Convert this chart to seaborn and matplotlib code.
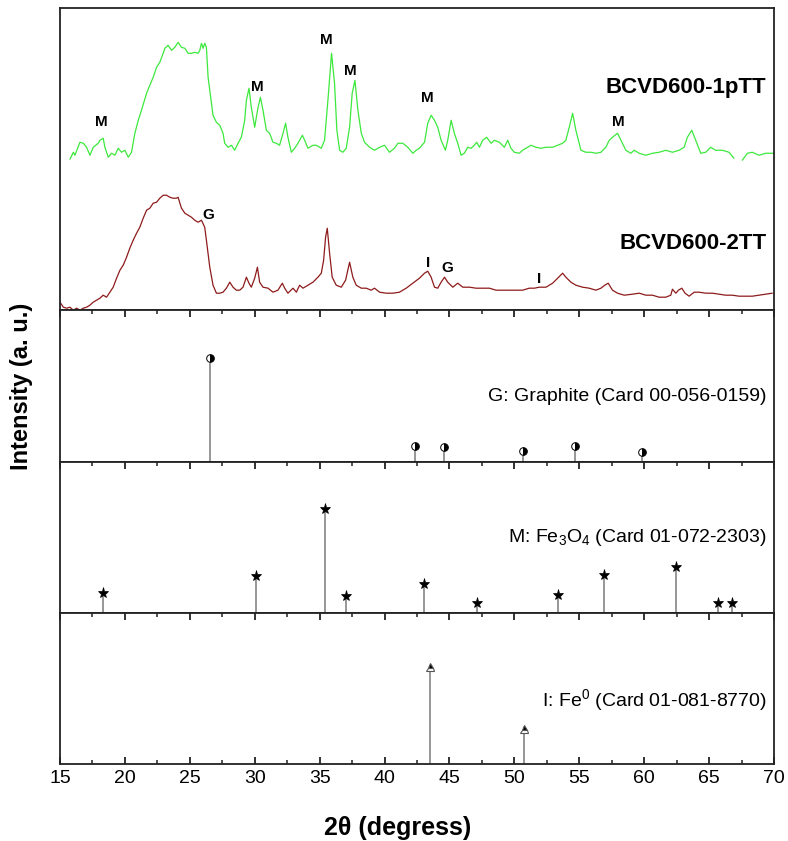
import numpy as np
import pandas as pd
import matplotlib
matplotlib.use("Agg")
import matplotlib.pyplot as plt
from matplotlib.ticker import MultipleLocator
import seaborn as sns

# ---- measured diffractograms (2theta in degrees, intensity in a.u.) ----
tt_1ptt = [15.77, 16.03, 16.15, 16.54, 16.80, 17.05, 17.31, 17.56, 17.95, 18.08, 18.33, 18.46,
           18.72, 18.97, 19.23, 19.49, 19.74, 20.00, 20.26, 20.51, 20.77, 21.03, 21.28, 21.67,
           21.92, 22.18, 22.44, 22.69, 22.95, 23.08, 23.33, 23.59, 23.85, 24.10, 24.36, 24.62,
           24.87, 25.13, 25.39, 25.64, 25.77, 25.90, 26.03, 26.15, 26.28, 26.41, 26.67, 26.79,
           27.05, 27.31, 27.56, 27.69, 27.95, 28.21, 28.46, 28.72, 28.97, 29.23, 29.36, 29.56,
           29.74, 30.00, 30.26, 30.44, 30.64, 30.90, 31.15, 31.41, 31.67, 31.92, 32.18, 32.38,
           32.56, 32.82, 33.08, 33.33, 33.67, 33.85, 34.10, 34.49, 34.74, 35.13, 35.38, 35.64,
           35.92, 36.15, 36.33, 36.54, 36.79, 37.05, 37.31, 37.51, 37.72, 37.95, 38.21, 38.46,
           38.85, 39.23, 39.62, 40.00, 40.38, 40.77, 41.03, 41.41, 41.79, 42.18, 42.44, 42.69,
           43.08, 43.33, 43.59, 43.85, 44.10, 44.36, 44.69, 44.87, 45.13, 45.38, 45.64, 45.90,
           46.15, 46.41, 46.67, 46.92, 47.10, 47.31, 47.56, 47.87, 48.21, 48.46, 48.85, 49.23,
           49.49, 49.74, 50.00, 50.38, 50.64, 51.03, 51.28, 51.67, 52.05, 52.44, 52.95, 53.33,
           53.72, 53.97, 54.23, 54.49, 54.74, 55.13, 55.51, 55.90, 56.28, 56.67, 57.05, 57.31,
           57.56, 57.95, 58.21, 58.59, 58.97, 59.23, 59.62, 60.13, 60.64, 61.15, 61.67, 62.18,
           62.69, 63.08, 63.33, 63.67, 63.97, 64.36, 64.74, 65.13, 65.51, 66.03, 66.54, 66.92,
           67.56, 67.95, 68.33, 68.85, 69.36, 70.00]
int_1ptt = [151, 158, 155, 168, 167, 163, 155, 163, 167, 170, 172, 163,
            153, 157, 155, 162, 158, 160, 153, 158, 177, 190, 200, 217,
            225, 233, 243, 248, 257, 262, 265, 260, 263, 268, 263, 262,
            257, 257, 258, 257, 260, 267, 262, 267, 263, 233, 207, 195,
            188, 185, 177, 167, 163, 165, 160, 167, 173, 190, 210, 222,
            203, 183, 203, 213, 200, 180, 177, 168, 167, 165, 177, 187,
            173, 158, 162, 167, 175, 170, 162, 165, 165, 162, 170, 210,
            257, 227, 180, 160, 158, 162, 183, 217, 230, 200, 177, 168,
            163, 160, 163, 165, 158, 162, 167, 167, 163, 157, 160, 162,
            168, 187, 195, 190, 183, 170, 160, 170, 190, 177, 167, 155,
            157, 163, 162, 165, 168, 163, 170, 173, 167, 170, 168, 163,
            170, 162, 158, 157, 160, 163, 165, 163, 162, 163, 163, 165,
            167, 170, 183, 197, 180, 160, 158, 158, 157, 158, 163, 170,
            173, 177, 170, 160, 157, 160, 157, 155, 157, 158, 160, 158,
            160, 163, 173, 180, 170, 157, 158, 163, 160, 160, 158, 152,
            150, 157, 158, 155, 157, 157]
# the 1pTT scan has a short dropout between 66.9 and 67.6 degrees
seg_1ptt = [0 if t < 67.2 else 1 for t in tt_1ptt]

tt_2tt = [15.00, 15.26, 15.51, 15.77, 16.03, 16.28, 16.54, 16.80, 17.05, 17.31, 17.56, 17.82,
          18.08, 18.33, 18.59, 18.85, 19.10, 19.36, 19.62, 19.87, 20.13, 20.38, 20.64, 20.90,
          21.15, 21.41, 21.67, 21.92, 22.18, 22.44, 22.69, 22.95, 23.21, 23.46, 23.72, 23.97,
          24.10, 24.36, 24.62, 24.87, 25.13, 25.38, 25.64, 25.90, 26.15, 26.28, 26.54, 26.79,
          27.05, 27.31, 27.56, 27.82, 28.08, 28.33, 28.59, 28.85, 29.10, 29.36, 29.56, 29.74,
          30.00, 30.21, 30.38, 30.64, 31.03, 31.41, 31.79, 32.13, 32.31, 32.56, 32.95, 33.21,
          33.46, 33.72, 34.10, 34.49, 34.87, 35.13, 35.31, 35.46, 35.59, 35.77, 35.97, 36.28,
          36.67, 37.00, 37.31, 37.56, 37.82, 38.21, 38.59, 38.97, 39.23, 39.62, 40.13, 40.64,
          41.15, 41.67, 42.18, 42.69, 43.08, 43.33, 43.59, 43.85, 44.10, 44.36, 44.62, 44.87,
          45.26, 45.64, 46.03, 46.54, 47.05, 47.56, 48.08, 48.59, 49.10, 49.62, 50.13, 50.64,
          51.15, 51.54, 51.92, 52.44, 52.95, 53.33, 53.72, 53.97, 54.36, 54.74, 55.26, 55.77,
          56.28, 56.67, 56.97, 57.23, 57.56, 57.95, 58.46, 59.10, 59.62, 60.13, 60.64, 61.15,
          61.67, 62.05, 62.18, 62.44, 62.64, 62.90, 63.15, 63.46, 63.85, 64.23, 64.74, 65.26,
          65.77, 66.28, 66.79, 67.31, 67.82, 68.33, 68.85, 69.36, 69.87]
int_2tt = [8, 3, 2, 3, 0, 2, 0, 2, 3, 5, 8, 10,
           12, 15, 13, 18, 23, 32, 40, 45, 53, 62, 70, 77,
           83, 92, 100, 102, 107, 108, 112, 115, 115, 113, 112, 112,
           113, 102, 97, 95, 93, 90, 88, 90, 83, 70, 43, 25,
           17, 17, 18, 22, 28, 23, 20, 20, 23, 33, 27, 23,
           32, 43, 28, 23, 22, 18, 20, 27, 22, 17, 22, 18,
           25, 22, 25, 28, 33, 37, 50, 73, 82, 57, 33, 25,
           23, 30, 48, 33, 25, 22, 22, 20, 22, 18, 17, 17,
           18, 22, 27, 32, 37, 39, 33, 23, 22, 28, 33, 28,
           23, 27, 23, 23, 22, 22, 22, 20, 20, 20, 20, 20,
           22, 22, 23, 23, 27, 32, 37, 33, 28, 25, 23, 22,
           20, 22, 25, 27, 20, 17, 15, 16, 17, 15, 15, 13,
           13, 15, 21, 17, 20, 22, 17, 14, 18, 18, 17, 17,
           16, 15, 15, 14, 14, 14, 15, 16, 17]

# ---- reference patterns (relative intensity) ----
graphite_pos = [26.59, 42.36, 44.56, 50.69, 54.67, 59.87]
graphite_int = [104, 16, 15.5, 11, 16, 10.5]
magnetite_pos = [18.33, 30.08, 35.41, 37.05, 43.08, 47.13, 53.38, 56.92, 62.48, 65.69, 66.74]
magnetite_int = [20, 37, 104, 17, 29, 10, 18, 38, 46, 10.5, 10]
iron_pos = [43.54, 50.73]
iron_int = [97, 35]

# phase letters placed over the scans: (label, 2theta, height)
phase_marks = [("M", 18.2, 188), ("M", 30.2, 223), ("M", 35.5, 270), ("M", 37.4, 239),
               ("M", 43.33, 212), ("M", 58.0, 188), ("G", 26.4, 95),
               ("I", 43.33, 47), ("G", 44.87, 42), ("I", 51.92, 31)]

sns.set_theme(style="white")
plt.rcParams["font.family"] = ["Liberation Sans", "DejaVu Sans"]
plt.rcParams["text.color"] = "black"
plt.rcParams["mathtext.fontset"] = "custom"
plt.rcParams["mathtext.rm"] = "Liberation Sans"
plt.rcParams["mathtext.it"] = "Liberation Sans"

fig = plt.figure(figsize=(7.88, 8.41), dpi=100)
gs = fig.add_gridspec(4, 1, height_ratios=[302, 152, 151, 151], hspace=0,
                      left=0.0761, right=0.9822, top=0.9901, bottom=0.0916)
axes = [fig.add_subplot(gs[i]) for i in range(4)]

df1 = pd.DataFrame({"tt": tt_1ptt, "I": int_1ptt, "seg": seg_1ptt})
df2 = pd.DataFrame({"tt": tt_2tt, "I": int_2tt, "seg": 0})

ax = axes[0]
sns.lineplot(data=df1, x="tt", y="I", units="seg", estimator=None, color="#3de83d",
             lw=0.9, ax=ax, legend=False)
sns.lineplot(data=df2, x="tt", y="I", units="seg", estimator=None, color="#8e1b1b",
             lw=0.9, ax=ax, legend=False)
ax.set_ylim(0, 302)
for lab, x, y in phase_marks:
    ax.text(x, y, lab, ha="center", va="center", fontsize=11, fontweight="bold")
ax.text(69.4, 223, "BCVD600-1pTT", ha="right", va="center", fontsize=16, fontweight="bold")
ax.text(69.4, 67, "BCVD600-2TT", ha="right", va="center", fontsize=16, fontweight="bold")

stem_kw = dict(color="#7a7a7a", lw=1.1)

ax = axes[1]
ax.vlines(graphite_pos, 0, graphite_int, **stem_kw)
ax.plot(graphite_pos, graphite_int, ls="none", marker="o", ms=5.5, fillstyle="right",
        markerfacecolor="black", markerfacecoloralt="white", markeredgecolor="black",
        markeredgewidth=0.7)
ax.set_ylim(0, 152)
ax.text(69.45, 66, "G: Graphite (Card 00-056-0159)", ha="right", va="center", fontsize=14)

ax = axes[2]
ax.vlines(magnetite_pos, 0, magnetite_int, **stem_kw)
ax.plot(magnetite_pos, magnetite_int, ls="none", marker="*", ms=8, color="black",
        markeredgewidth=0.5)
ax.set_ylim(0, 151)
ax.text(69.45, 76, "M: Fe$_3$O$_4$ (Card 01-072-2303)", ha="right", va="center", fontsize=14)

ax = axes[3]
ax.vlines(iron_pos, 0, iron_int, **stem_kw)
ax.plot(iron_pos, iron_int, ls="none", marker="^", ms=6, fillstyle="top",
        markerfacecolor="black", markerfacecoloralt="white", markeredgecolor="#555555",
        markeredgewidth=0.8)
ax.set_ylim(0, 151)
ax.text(69.45, 64, "I: Fe$^0$ (Card 01-081-8770)", ha="right", va="center", fontsize=14)

for i, ax in enumerate(axes):
    ax.set_xlim(15, 70)
    ax.set_xlabel("")
    ax.set_ylabel("")
    ax.set_yticks([])
    ax.xaxis.set_major_locator(MultipleLocator(5))
    ax.xaxis.set_minor_locator(MultipleLocator(2.5))
    for sp in ax.spines.values():
        sp.set_visible(True)
        sp.set_color("#222222")
        sp.set_linewidth(1.3)
    bottom = (i == 3)
    top = (i > 0)
    ax.tick_params(axis="x", which="both", direction="in", colors="#222222",
                   labelcolor="black", top=top, bottom=bottom, labelbottom=bottom,
                   labeltop=False, labelsize=14, pad=4)
    ax.tick_params(axis="x", which="major", length=5, width=1.3)
    ax.tick_params(axis="x", which="minor", length=3, width=1.1)

fig.text(22 / 788, 1 - 386 / 841, "Intensity (a. u.)", rotation=90, ha="center",
         va="center", fontsize=17, fontweight="bold")
fig.text(398 / 788, 1 - 828 / 841, "2\u03b8 (degress)", ha="center", va="center",
         fontsize=18, fontweight="bold")

fig.savefig("out.png", dpi=100)
